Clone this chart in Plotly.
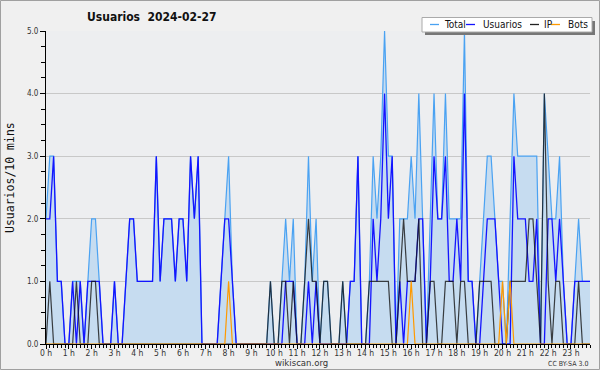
import plotly.graph_objects as go

# 10-minute slots across the day (0 .. 143)
slots = list(range(144))
hour_ticks = list(range(24))
hour_labels = [f"{h} h" for h in hour_ticks]

usuarios = [2,2,3,1,1,0,0,1,0,1, 0,1,1,1,1,0,0,0,1,0,
            0,1,2,2,1,1,1,1,1,3, 1,2,2,2,1,2,2,1,3,2,
            3,0,0,0,0,0,1,2,2,1, 0,0,0,0,0,0,0,0,0,0,
            0,0,0,1,1,1,0,0,0,1, 0,1,0,0,0,0,0,0,0,0,
            1,1,3,0,0,0,2,1,2,4, 2,3,0,1,0,1,1,1,2,2,
            0,1,3,2,2,3,1,1,2,1, 4,1,1,0,0,1,2,2,2,1,
            0,0,0,3,2,2,2,1,1,2, 0,0,2,2,1,2,1,0,0,1,
            1,1,1,1]
ip =       [0,1,0,0,0,0,0,0,1,0, 0,0,1,1,0,0,0,0,0,0,
            0,0,0,0,0,0,0,0,0,0, 0,0,0,0,0,0,0,0,0,0,
            0,0,0,0,0,0,0,0,0,0, 0,0,0,0,0,0,0,0,0,1,
            0,0,1,1,0,1,0,0,1,2, 1,1,0,1,1,0,0,0,1,0,
            0,0,0,0,0,1,1,1,1,1, 1,0,0,1,2,1,1,1,2,0,
            0,1,1,0,0,1,1,1,0,1, 1,0,0,0,1,1,1,1,0,0,
            0,0,1,1,1,1,1,2,2,1, 0,4,1,0,1,1,0,0,0,0,
            1,0,0,0]
bots =     [0]*144
bots_at = {48: 1, 96: 1, 120: 1, 122: 1}
for k, v in bots_at.items():
    bots[k] = v
total =    [2,3,3,1,1,0,0,1,1,1, 0,1,2,2,1,0,0,0,1,0,
            0,1,2,2,1,1,1,1,1,3, 1,2,2,2,1,2,2,1,3,2,
            3,0,0,0,0,0,1,2,3,1, 0,0,0,0,0,0,0,0,0,1,
            0,0,1,2,1,2,0,0,1,3, 1,2,0,1,1,0,0,0,1,0,
            1,1,3,0,0,1,3,2,3,5, 3,3,0,2,2,2,3,2,4,2,
            0,2,4,2,2,4,2,2,2,2, 5,1,1,0,1,2,3,3,2,1,
            1,0,2,4,3,3,3,3,3,3, 0,4,3,2,2,3,1,0,0,1,
            2,1,1,1]

x = [s / 6 for s in slots]

# plot area in pixels
L, R, T, B = 46, 590, 31, 344
W, H = R - L, B - T
def px(X): return (X - L) / W
def py(Y): return (B - Y) / H

fig = go.Figure()
fig.add_trace(go.Scatter(x=x, y=total, mode="lines", name="Total",
                         line=dict(color="#4aa2f2", width=1.2),
                         fill="tozeroy", fillcolor="#c6dcf0"))
fig.add_trace(go.Scatter(x=x, y=usuarios, mode="lines", name="Usuarios",
                         line=dict(color="#1414ff", width=1.3)))
fig.add_trace(go.Scatter(x=x, y=ip, mode="lines", name="IP",
                         line=dict(color="rgba(20,20,20,0.8)", width=1.2)))
fig.add_trace(go.Scatter(x=x, y=bots, mode="lines", name="Bots",
                         line=dict(color="#ff9a00", width=1.2)))

font_main = "DejaVu Sans Condensed, DejaVu Sans, sans-serif"

fig.update_layout(
    width=600, height=370,
    margin=dict(l=L, r=600 - R, t=T, b=370 - B, autoexpand=False),
    paper_bgcolor="#f0f0f0", plot_bgcolor="#edeef0",
    showlegend=False,
    font=dict(family=font_main, size=9, color="#222"),
    xaxis=dict(range=[0, 143 / 6], tickmode="array", tickvals=hour_ticks,
               ticktext=hour_labels, ticks="outside", ticklen=4, tickwidth=1,
               tickcolor="#000", showline=True, linecolor="#000", linewidth=1,
               showgrid=False, zeroline=False, automargin=False,
               ticklabelstandoff=-3,
               tickfont=dict(size=8.5, family=font_main, color="#333"),
               minor=dict(dtick=1 / 6, tick0=0, ticks="outside", ticklen=3,
                          tickcolor="#000", showgrid=False)),
    yaxis=dict(range=[0, 5], tickmode="array", tickvals=[0, 1, 2, 3, 4, 5],
               ticktext=["0.0", "1.0", "2.0", "3.0", "4.0", "5.0"],
               ticks="outside", ticklen=5, tickcolor="#000", showline=True,
               linecolor="#000", linewidth=1, showgrid=True,
               gridcolor="#c8c8c8", gridwidth=1, zeroline=False,
               automargin=False,
               tickfont=dict(size=8, family=font_main, color="#333"),
               minor=dict(dtick=0.25, ticks="outside", ticklen=4,
                          tickcolor="#000", showgrid=False)),
)

shapes = []
# outer frame
shapes.append(dict(type="rect", xref="paper", yref="paper",
                   x0=px(0.5), x1=px(599.5), y0=py(369.5), y1=py(0.5),
                   line=dict(color="#a0a0a0", width=1), layer="below"))
# legend shadow and box
shapes.append(dict(type="rect", xref="paper", yref="paper",
                   x0=px(425), x1=px(595), y0=py(35), y1=py(21),
                   fillcolor="#777", line=dict(width=0)))
shapes.append(dict(type="rect", xref="paper", yref="paper",
                   x0=px(422), x1=px(592), y0=py(32), y1=py(17.5),
                   fillcolor="#ffffff", line=dict(color="#aaa", width=1)))
legend_items = [("Total", "#4aa2f2", 430, 442),
                ("Usuarios", "#1414ff", 466, 481),
                ("IP", "#222222", 530, 542),
                ("Bots", "#ff9a00", 551, 566)]
ann = []
for name, col, lx, tx in legend_items:
    shapes.append(dict(type="line", xref="paper", yref="paper",
                       x0=px(lx), x1=px(lx + 9), y0=py(24.5), y1=py(24.5),
                       line=dict(color=col, width=1.3)))
    ann.append(dict(text=name, xref="paper", yref="paper", x=px(tx), y=py(24.5),
                    xanchor="left", yanchor="middle", showarrow=False,
                    font=dict(size=10, family=font_main, color="#111")))

ann.append(dict(text="Usuarios\u00a0\u00a02024-02-27", xref="paper", yref="paper",
                x=px(85), y=py(17), xanchor="left", yanchor="middle",
                showarrow=False,
                font=dict(size=12, family=font_main, color="#111",
                          weight="bold")))
ann.append(dict(text="Usuarios/10 mins", xref="paper", yref="paper",
                x=px(10), y=py(178), textangle=-90, xanchor="center",
                yanchor="middle", showarrow=False,
                font=dict(size=11.5, family="DejaVu Sans Mono, monospace", color="#111")))
ann.append(dict(text="wikiscan.org", xref="paper", yref="paper",
                x=px(301), y=py(362.5), xanchor="center", yanchor="middle",
                showarrow=False, font=dict(size=9.5, family=font_main, color="#333")))
ann.append(dict(text="CC BY-SA 3.0", xref="paper", yref="paper",
                x=px(590), y=py(363.5), xanchor="right", yanchor="middle",
                showarrow=False, font=dict(size=7, family=font_main, color="#333")))

fig.update_layout(shapes=shapes, annotations=ann)

fig.write_html("out.html", config={"displayModeBar": False},
               post_script="document.body.style.margin='0';")
